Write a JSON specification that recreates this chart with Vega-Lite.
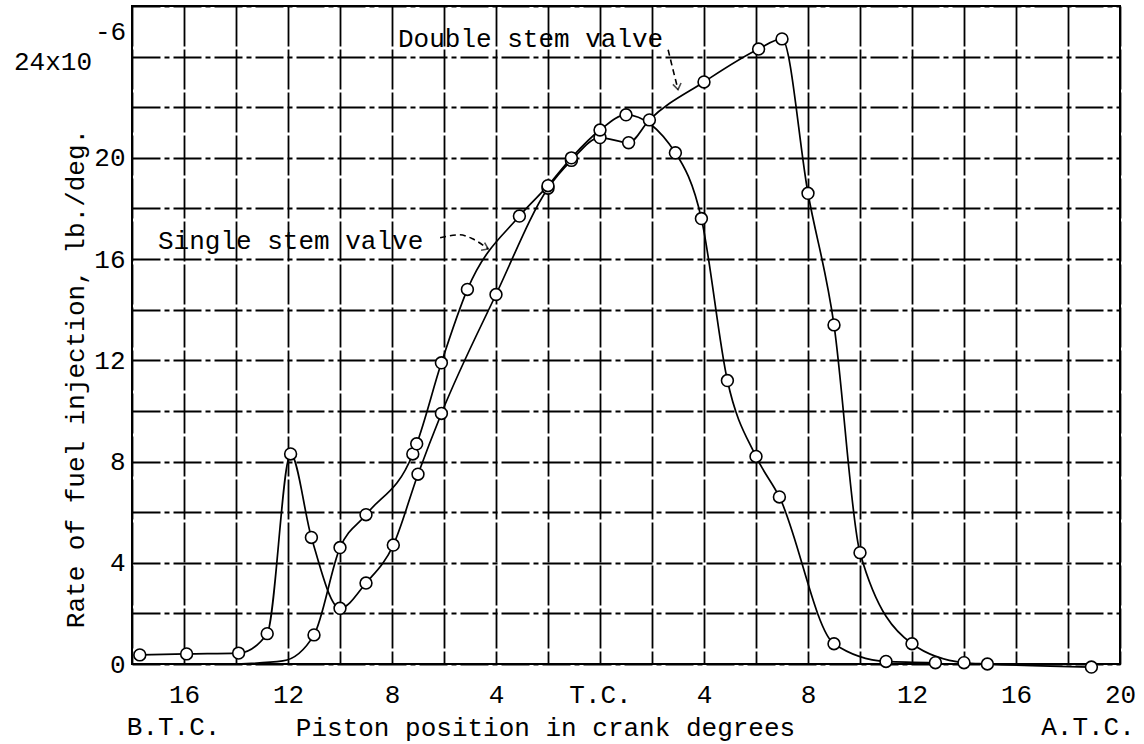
{
  "$schema": "https://vega.github.io/schema/vega-lite/v6.json",
  "width": 988,
  "height": 658,
  "autosize": {"type": "none"},
  "padding": {"left": 132, "top": 6, "right": 24, "bottom": 80},
  "background": "white",
  "config": {
    "font": "Liberation Mono",
    "view": {"stroke": "black", "strokeWidth": 2},
    "text": {"font": "Liberation Mono", "fontSize": 26, "color": "black"}
  },
  "datasets": {
    "curves": [
      {"valve": "Double stem valve", "deg": -17.7, "rate": 0.36, "reading": true},
      {"valve": "Double stem valve", "deg": -15.9, "rate": 0.4, "reading": true},
      {"valve": "Double stem valve", "deg": -13.9, "rate": 0.43, "reading": true},
      {"valve": "Double stem valve", "deg": -12.8, "rate": 1.2, "reading": true},
      {"valve": "Double stem valve", "deg": -11.9, "rate": 8.3, "reading": true},
      {"valve": "Double stem valve", "deg": -11.1, "rate": 5.0, "reading": true},
      {"valve": "Double stem valve", "deg": -10.0, "rate": 2.2, "reading": true},
      {"valve": "Double stem valve", "deg": -9.0, "rate": 3.2, "reading": true},
      {"valve": "Double stem valve", "deg": -7.95, "rate": 4.7, "reading": true},
      {"valve": "Double stem valve", "deg": -7.0, "rate": 7.5, "reading": true},
      {"valve": "Double stem valve", "deg": -6.1, "rate": 9.9, "reading": true},
      {"valve": "Double stem valve", "deg": -4.0, "rate": 14.6, "reading": true},
      {"valve": "Double stem valve", "deg": -2.0, "rate": 18.8, "reading": true},
      {"valve": "Double stem valve", "deg": -1.1, "rate": 19.9, "reading": true},
      {"valve": "Double stem valve", "deg": 0.0, "rate": 20.8, "reading": true},
      {"valve": "Double stem valve", "deg": 1.1, "rate": 20.6, "reading": true},
      {"valve": "Double stem valve", "deg": 1.9, "rate": 21.5, "reading": true},
      {"valve": "Double stem valve", "deg": 4.0, "rate": 23.0, "reading": true},
      {"valve": "Double stem valve", "deg": 6.1, "rate": 24.3, "reading": true},
      {"valve": "Double stem valve", "deg": 7.0, "rate": 24.7, "reading": true},
      {"valve": "Double stem valve", "deg": 8.0, "rate": 18.6, "reading": true},
      {"valve": "Double stem valve", "deg": 9.0, "rate": 13.4, "reading": true},
      {"valve": "Double stem valve", "deg": 10.0, "rate": 4.4, "reading": true},
      {"valve": "Double stem valve", "deg": 12.0, "rate": 0.8, "reading": true},
      {"valve": "Double stem valve", "deg": 14.0, "rate": 0.05, "reading": true},
      {"valve": "Double stem valve", "deg": 14.9, "rate": 0.0, "reading": true},
      {"valve": "Double stem valve", "deg": 18.9, "rate": -0.12, "reading": true},
      {"valve": "Single stem valve", "deg": -14.0, "rate": 0.0, "reading": false},
      {"valve": "Single stem valve", "deg": -12.2, "rate": 0.12, "reading": false},
      {"valve": "Single stem valve", "deg": -11.0, "rate": 1.15, "reading": true},
      {"valve": "Single stem valve", "deg": -10.0, "rate": 4.6, "reading": true},
      {"valve": "Single stem valve", "deg": -9.0, "rate": 5.9, "reading": true},
      {"valve": "Single stem valve", "deg": -7.2, "rate": 8.3, "reading": true},
      {"valve": "Single stem valve", "deg": -7.05, "rate": 8.7, "reading": true},
      {"valve": "Single stem valve", "deg": -6.1, "rate": 11.9, "reading": true},
      {"valve": "Single stem valve", "deg": -5.1, "rate": 14.8, "reading": true},
      {"valve": "Single stem valve", "deg": -3.1, "rate": 17.7, "reading": true},
      {"valve": "Single stem valve", "deg": -2.0, "rate": 18.9, "reading": true},
      {"valve": "Single stem valve", "deg": -1.1, "rate": 20.0, "reading": true},
      {"valve": "Single stem valve", "deg": 0.0, "rate": 21.1, "reading": true},
      {"valve": "Single stem valve", "deg": 1.0, "rate": 21.7, "reading": true},
      {"valve": "Single stem valve", "deg": 2.9, "rate": 20.2, "reading": true},
      {"valve": "Single stem valve", "deg": 3.9, "rate": 17.6, "reading": true},
      {"valve": "Single stem valve", "deg": 4.9, "rate": 11.2, "reading": true},
      {"valve": "Single stem valve", "deg": 6.0, "rate": 8.2, "reading": true},
      {"valve": "Single stem valve", "deg": 6.9, "rate": 6.6, "reading": true},
      {"valve": "Single stem valve", "deg": 9.0, "rate": 0.8, "reading": true},
      {"valve": "Single stem valve", "deg": 11.0, "rate": 0.1, "reading": true},
      {"valve": "Single stem valve", "deg": 12.9, "rate": 0.05, "reading": true}
    ],
    "labels": [
      {"label": "Double stem valve", "deg": -7.77, "rate": 24.7},
      {"label": "Single stem valve", "deg": -17.0, "rate": 16.7}
    ],
    "arrows": [
      {"arrow": "double", "deg": 2.62, "rate": 24.27},
      {"arrow": "double", "deg": 2.78, "rate": 23.6},
      {"arrow": "double", "deg": 3.0, "rate": 22.7},
      {"arrow": "single", "deg": -6.15, "rate": 16.84},
      {"arrow": "single", "deg": -5.4, "rate": 16.96},
      {"arrow": "single", "deg": -4.9, "rate": 16.8},
      {"arrow": "single", "deg": -4.3, "rate": 16.4}
    ],
    "ends": [
      {"end": "B.T.C.", "deg": -16.4, "rate": 0},
      {"end": "A.T.C.", "deg": 18.77, "rate": 0}
    ],
    "unit": [
      {"deg": -18, "rate": 24, "base": "24x10", "exp": "-6"}
    ]
  },
  "layer": [
    {
      "data": {"name": "curves"},
      "mark": {"type": "line", "interpolate": "monotone", "color": "black", "strokeWidth": 1.7},
      "encoding": {
        "x": {
          "field": "deg", "type": "quantitative",
          "scale": {"domain": [-18, 20], "nice": false, "zero": false},
          "axis": {
            "values": [-18, -16, -14, -12, -10, -8, -6, -4, -2, 0, 2, 4, 6, 8, 10, 12, 14, 16, 18, 20],
            "labelExpr": "datum.value % 4 == 0 ? (datum.value == 0 ? 'T.C.' : '' + abs(datum.value)) : ''",
            "grid": true, "gridColor": "black", "gridWidth": 1.8, "gridDash": [40, 3], "gridOpacity": 1,
            "domain": false, "ticks": false,
            "labelFont": "Liberation Mono", "labelFontSize": 26, "labelColor": "black",
            "labelPadding": 17, "labelBaseline": "top", "labelFlush": false, "labelOverlap": false,
            "title": "Piston position in crank degrees",
            "titleFont": "Liberation Mono", "titleFontSize": 26, "titleFontWeight": "normal", "titleColor": "black",
            "titleX": 413, "titleY": 71, "titleBaseline": "alphabetic", "titleAlign": "center"
          }
        },
        "y": {
          "field": "rate", "type": "quantitative",
          "scale": {"domain": [0, 26], "nice": false, "zero": false},
          "axis": {
            "values": [0, 2, 4, 6, 8, 10, 12, 14, 16, 18, 20, 22, 24, 26],
            "labelExpr": "datum.value % 4 == 0 && datum.value < 24 ? datum.label : ''",
            "grid": true, "gridColor": "black", "gridWidth": 1.8, "gridDash": [28, 4, 5, 4], "gridOpacity": 1,
            "domain": false, "ticks": false,
            "labelFont": "Liberation Mono", "labelFontSize": 26, "labelColor": "black",
            "labelPadding": 7, "labelBaseline": "middle", "labelFlush": false, "labelOverlap": false,
            "title": "Rate of fuel injection, lb./deg.",
            "titleFont": "Liberation Mono", "titleFontSize": 26, "titleFontWeight": "normal", "titleColor": "black",
            "titleX": -49, "titleY": 372, "titleBaseline": "alphabetic", "titleAlign": "center", "titleAngle": -90
          }
        },
        "detail": {"field": "valve", "type": "nominal"}
      }
    },
    {
      "data": {"name": "curves"},
      "transform": [{"filter": "datum.reading"}],
      "mark": {"type": "point", "shape": "circle", "filled": true, "fill": "white", "stroke": "black", "strokeWidth": 1.6, "size": 140, "opacity": 1},
      "encoding": {
        "x": {"field": "deg", "type": "quantitative"},
        "y": {"field": "rate", "type": "quantitative"}
      }
    },
    {
      "data": {"name": "arrows"},
      "mark": {"type": "line", "interpolate": "monotone", "color": "black", "strokeWidth": 1.6, "strokeDash": [6, 4]},
      "encoding": {
        "x": {"field": "deg", "type": "quantitative"},
        "y": {"field": "rate", "type": "quantitative"},
        "detail": {"field": "arrow", "type": "nominal"}
      }
    },
    {
      "data": {"name": "arrows"},
      "transform": [{"filter": "datum.arrow == 'double' && datum.rate < 23"}],
      "mark": {"type": "point", "shape": "M-0.7,-1L0,0L0.7,-1", "filled": false, "stroke": "black", "strokeWidth": 1.6, "size": 140, "angle": -10},
      "encoding": {
        "x": {"field": "deg", "type": "quantitative"},
        "y": {"field": "rate", "type": "quantitative"}
      }
    },
    {
      "data": {"name": "arrows"},
      "transform": [{"filter": "datum.arrow == 'single' && datum.deg > -4.5"}],
      "mark": {"type": "point", "shape": "M-0.7,-1L0,0L0.7,-1", "filled": false, "stroke": "black", "strokeWidth": 1.6, "size": 140, "angle": -65},
      "encoding": {
        "x": {"field": "deg", "type": "quantitative"},
        "y": {"field": "rate", "type": "quantitative"}
      }
    },
    {
      "data": {"name": "labels"},
      "mark": {"type": "text", "align": "left", "baseline": "middle", "fontSize": 26},
      "encoding": {
        "x": {"field": "deg", "type": "quantitative"},
        "y": {"field": "rate", "type": "quantitative"},
        "text": {"field": "label", "type": "nominal"}
      }
    },
    {
      "data": {"name": "ends"},
      "mark": {"type": "text", "align": "center", "baseline": "alphabetic", "dy": 71, "fontSize": 26},
      "encoding": {
        "x": {"field": "deg", "type": "quantitative"},
        "y": {"field": "rate", "type": "quantitative"},
        "text": {"field": "end", "type": "nominal"}
      }
    },
    {
      "data": {"name": "unit"},
      "mark": {"type": "text", "align": "right", "baseline": "middle", "dx": -40, "dy": 5, "fontSize": 26},
      "encoding": {
        "x": {"field": "deg", "type": "quantitative"},
        "y": {"field": "rate", "type": "quantitative"},
        "text": {"field": "base", "type": "nominal"}
      }
    },
    {
      "data": {"name": "unit"},
      "mark": {"type": "text", "align": "left", "baseline": "middle", "dx": -37, "dy": -25, "fontSize": 26},
      "encoding": {
        "x": {"field": "deg", "type": "quantitative"},
        "y": {"field": "rate", "type": "quantitative"},
        "text": {"field": "exp", "type": "nominal"}
      }
    }
  ]
}
